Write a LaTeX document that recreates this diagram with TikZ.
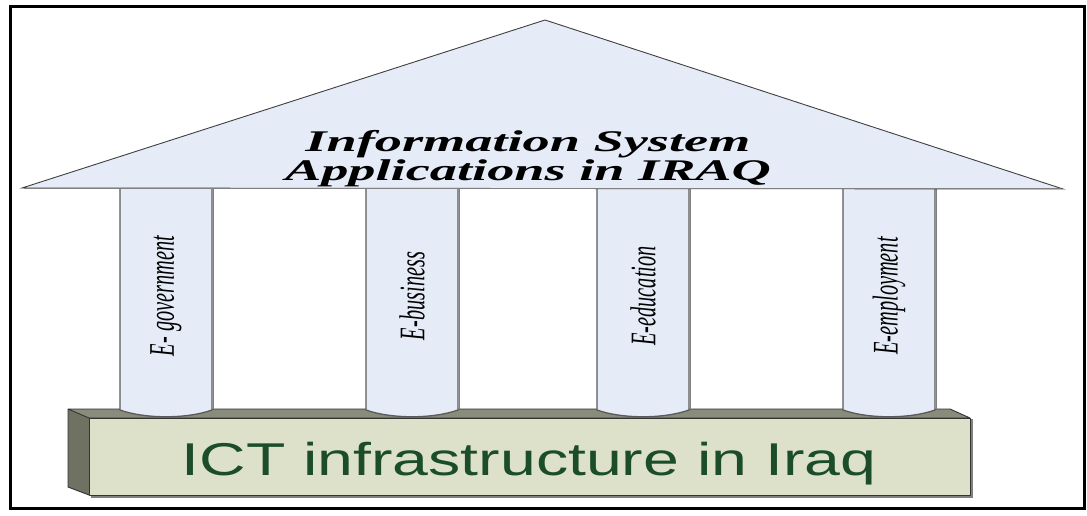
\documentclass[tikz,border=0pt]{standalone}
\usepackage{fontspec}
\setmainfont{Liberation Serif}
\newfontfamily\sansf{Liberation Sans}
\definecolor{roofblue}{HTML}{E6ECF7}
\definecolor{frontface}{HTML}{DDE1C9}
\definecolor{topface}{HTML}{8A8C7B}
\definecolor{sideface}{HTML}{6F7263}
\definecolor{ictgreen}{HTML}{1B4D2B}
\definecolor{edgegray}{HTML}{5A5A5A}
\tikzset{
  frame/.style={draw=black, line width=3pt},
  roof/.style={fill=roofblue, draw=edgegray!70!black, line width=0.9pt, line join=miter},
  pillar/.style={fill=roofblue, draw=edgegray, line width=1.3pt},
  boxedge/.style={draw=black!80, line width=0.9pt, line join=round},
  rooftext/.style={font=\fontsize{30}{26}\selectfont\bfseries\itshape, inner sep=0pt},
  pillartext/.style={font=\fontsize{36}{36}\selectfont\itshape, inner sep=0pt},
  icttext/.style={font=\sansf\fontsize{46}{46}\selectfont, text=ictgreen, inner sep=0pt, anchor=base}
}
\begin{document}
\begin{tikzpicture}[x=1pt,y=-1pt]
\useasboundingbox (0,0) rectangle (1087,516);
\fill[white] (0,0) rectangle (1087,516);
% base box
\fill[sideface] (68,409) -- (89,418) -- (89,495) -- (68,487) -- cycle;
\fill[topface] (68,409) -- (950,409) -- (970,418) -- (89,418) -- cycle;
\fill[frontface] (89,418) rectangle (970,495);
\draw[boxedge] (68,409) -- (950,409) -- (970,418) -- (89,418) -- cycle;
\draw[boxedge] (68,409) -- (68,487) -- (89,495);
\draw[boxedge] (89,418) rectangle (970,495);
\draw[gray, line width=1.5pt] (972,419) -- (972,497) -- (91,497);
\node[icttext] (ict) at (529,475) {\scalebox{1.4}[1]{ICT infrastructure in Iraq}};
% pillars
\foreach \xa/\lab/\nm in {120/{E- government}/pa, 366/{E-business}/pb, 597/{E-education}/pc, 843/{E-employment}/pd}{
  \pgfmathsetmacro{\xb}{\xa+92}
  \pgfmathsetmacro{\xm}{\xa+46}
  \draw[pillar] (\xa,186) -- (\xa,410) .. controls (\xa+25,419) and (\xb-25,419) .. (\xb,410) -- (\xb,186);
  \draw[gray, line width=1.2pt] (\xb+1.5,188) -- (\xb+1.5,409);
  \node[pillartext] (\nm) at (\xm,296) {\rotatebox{90}{\scalebox{0.565}[1]{\lab}}};
}
% roof
\draw[roof] (22,188) -- (545,20) -- (1063,189) -- cycle;
\draw[gray, line width=1.6pt] (24,188.5) -- (1061,188.5);
\node[rooftext, anchor=base] (roof) at (528,152) {\scalebox{1.81}[1]{\begin{tabular}[t]{@{}c@{}}Information System\\Applications in IRAQ\end{tabular}}};
% frame
\draw[frame] (10,7) rectangle (1084,508);
\end{tikzpicture}
\end{document}
